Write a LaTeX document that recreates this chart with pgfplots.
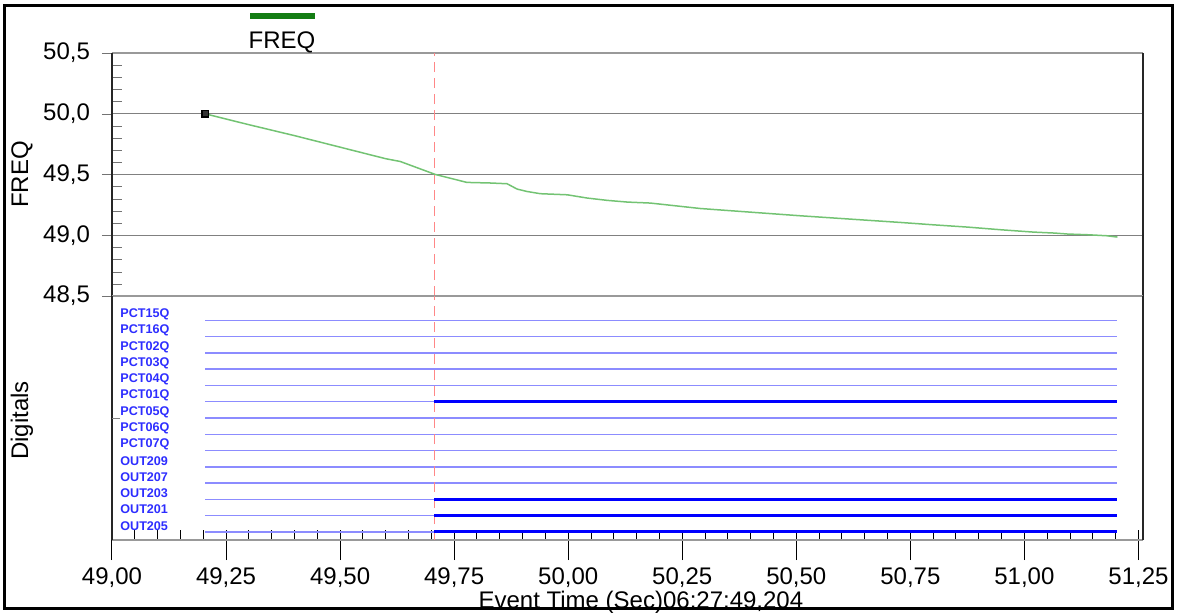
\documentclass[border=0pt]{standalone}
\usepackage{pgfplots}
\pgfplotsset{compat=1.18}
\usepackage{fontspec}
\setmainfont{Liberation Sans}
\definecolor{freqgreen}{RGB}{115,195,115}
\definecolor{leggreen}{RGB}{20,125,20}
\definecolor{dthin}{RGB}{140,140,255}
\definecolor{dthick}{RGB}{0,0,255}
\definecolor{dlabel}{RGB}{45,45,255}
\definecolor{redline}{RGB}{255,135,135}
\pgfplotsset{
  /pgf/number format/assume math mode=true,
  every tick label/.append style={font=\fontsize{12}{14}\selectfont},
}
\begin{document}
\begin{tikzpicture}
% ---------------- upper panel ----------------
\begin{axis}[
  name=upper, scale only axis, anchor=south west,
  width=515.5pt, height=121.5pt,
  xmin=49, xmax=51.26, ymin=48.5, ymax=50.5,
  xtick=\empty,
  ytick={48.5,49,49.5,50,50.5},
  minor y tick num=4,
  ytick pos=left,
  tick align=outside,
  major tick length=5pt, minor tick length=5pt,
  minor tick style={xshift=5pt, black!55},
  major tick style={black!55},
  ymajorgrids,
  grid style={black!50, line width=0.6pt},
  separate axis lines,
  x axis line style={black!40, line width=0.6pt},
  y axis line style={black!85, line width=0.7pt},
  yticklabel style={xshift=-2.5pt, /pgf/number format/.cd, fixed, fixed zerofill, precision=1, use comma},
  ylabel={FREQ},
  ylabel style={at={(axis description cs:-0.0873,0.5)}, anchor=center, font=\fontsize{12}{14}\selectfont},
]
\addplot[redline, line width=0.9pt, dash pattern=on 5pt off 3pt] coordinates {(49.707,48.5) (49.707,50.5)};
\addplot[freqgreen, line width=0.75pt, mark=square*, mark indices={1}, mark size=1.6pt,
  mark options={black, fill=black!80}] coordinates {
(49.204,50.000) (49.300,49.910) (49.400,49.820) (49.500,49.725) (49.600,49.630)
(49.632,49.607) (49.709,49.500) (49.778,49.435) (49.830,49.430) (49.866,49.424)
(49.888,49.380) (49.910,49.360) (49.939,49.342) (49.998,49.333) (50.042,49.306)
(50.086,49.287) (50.130,49.273) (50.180,49.265) (50.290,49.220) (50.510,49.160)
(50.730,49.105) (50.800,49.086) (50.876,49.067) (50.949,49.045) (51.020,49.026)
(51.066,49.018) (51.095,49.010) (51.140,49.004) (51.180,48.996) (51.204,48.985)
};
\end{axis}
% ---------------- lower panel ----------------
\begin{axis}[
  name=lower, scale only axis, at={(upper.south west)}, anchor=north west,
  width=515.5pt, height=122pt,
  xmin=49, xmax=51.26, ymin=-0.5, ymax=14.5,
  xtick={49,49.25,49.5,49.75,50,50.25,50.5,50.75,51,51.25},
  minor xtick={49,49.05,49.1,49.15,49.2,49.25,49.3,49.35,49.4,49.45,49.5,49.55,49.6,49.65,49.7,49.75,49.8,49.85,49.9,49.95,50,50.05,50.1,50.15,50.2,50.25,50.3,50.35,50.4,50.45,50.5,50.55,50.6,50.65,50.7,50.75,50.8,50.85,50.9,50.95,51,51.05,51.1,51.15,51.2,51.25},
  ytick=\empty,
  extra y ticks={7}, extra y tick labels={},
  extra y tick style={tick align=inside, major tick length=4pt, major tick style={black!50}},
  xtick pos=bottom, ytick pos=left,
  tick align=outside,
  major tick length=10pt, minor tick length=5pt,
  minor tick style={yshift=5pt, black, line width=0.5pt},
  major tick style={black, line width=0.5pt},
  separate axis lines,
  x axis line style={black!40, line width=0.6pt},
  y axis line style={black!85, line width=0.7pt},
  xticklabel style={inner sep=0.5pt, yshift=-3.3pt, /pgf/number format/.cd, fixed, fixed zerofill, precision=2, use comma},
  ylabel={Digitals},
  ylabel style={at={(axis description cs:-0.0873,0.49)}, anchor=center, font=\fontsize{12}{14}\selectfont},
  xlabel={Event Time (Sec)06:27:49,204},
  xlabel style={at={(axis description cs:0.513,-0.257)}, anchor=center, inner sep=0.5pt, font=\fontsize{12}{14}\selectfont},
]
% thin (state 0) lines
\addplot[dthin, line width=0.75pt] coordinates {(49.204,13) (51.204,13)};
\addplot[dthin, line width=0.75pt] coordinates {(49.204,12) (51.204,12)};
\addplot[dthin, line width=0.75pt] coordinates {(49.204,11) (51.204,11)};
\addplot[dthin, line width=0.75pt] coordinates {(49.204,10) (51.204,10)};
\addplot[dthin, line width=0.75pt] coordinates {(49.204,9) (51.204,9)};
\addplot[dthin, line width=0.75pt] coordinates {(49.204,8) (51.204,8)};
\addplot[dthin, line width=0.75pt] coordinates {(49.204,7) (51.204,7)};
\addplot[dthin, line width=0.75pt] coordinates {(49.204,6) (51.204,6)};
\addplot[dthin, line width=0.75pt] coordinates {(49.204,5) (51.204,5)};
\addplot[dthin, line width=0.75pt] coordinates {(49.204,4) (51.204,4)};
\addplot[dthin, line width=0.75pt] coordinates {(49.204,3) (51.204,3)};
\addplot[dthin, line width=0.75pt] coordinates {(49.204,2) (51.204,2)};
\addplot[dthin, line width=0.75pt] coordinates {(49.204,1) (51.204,1)};
\addplot[dthin, line width=0.75pt] coordinates {(49.204,0) (51.204,0)};
\addplot[redline, line width=0.9pt, dash pattern=on 5pt off 3pt] coordinates {(49.707,-0.5) (49.707,14.5)};
% thick (state 1) lines
\addplot[dthick, line width=1.5pt] coordinates {(49.706,8) (51.204,8)};
\addplot[dthick, line width=1.5pt] coordinates {(49.706,2) (51.204,2)};
\addplot[dthick, line width=1.5pt] coordinates {(49.706,1) (51.204,1)};
\addplot[dthick, line width=1.5pt] coordinates {(49.706,0) (51.204,0)};
% channel names
\begin{scope}[every node/.style={anchor=west, text=dlabel, font=\bfseries\fontsize{6.3}{7}\selectfont, inner sep=0pt}]
\node at (axis cs:49.0175,13.37) {PCT15Q};
\node at (axis cs:49.0175,12.37) {PCT16Q};
\node at (axis cs:49.0175,11.37) {PCT02Q};
\node at (axis cs:49.0175,10.37) {PCT03Q};
\node at (axis cs:49.0175,9.37) {PCT04Q};
\node at (axis cs:49.0175,8.37) {PCT01Q};
\node at (axis cs:49.0175,7.37) {PCT05Q};
\node at (axis cs:49.0175,6.37) {PCT06Q};
\node at (axis cs:49.0175,5.37) {PCT07Q};
\node at (axis cs:49.0175,4.37) {OUT209};
\node at (axis cs:49.0175,3.37) {OUT207};
\node at (axis cs:49.0175,2.37) {OUT203};
\node at (axis cs:49.0175,1.37) {OUT201};
\node at (axis cs:49.0175,0.37) {OUT205};
\end{scope}
\end{axis}
% ---------------- frame, legend, bounding box ----------------
\begin{scope}[shift={(upper.south west)}, xshift=-56pt, yshift=-158pt, x=1pt, y=1pt]
\draw[line width=1.5pt] (2.5,2) rectangle (586,303.5);
\draw[leggreen, line width=3pt] (125,298) -- (157.5,298);
\node[font=\fontsize{12}{14}\selectfont] at (141,285) {FREQ};
\pgfresetboundingbox
\path[use as bounding box] (0,0) rectangle (588.5,306);
\end{scope}
\end{tikzpicture}
\end{document}
